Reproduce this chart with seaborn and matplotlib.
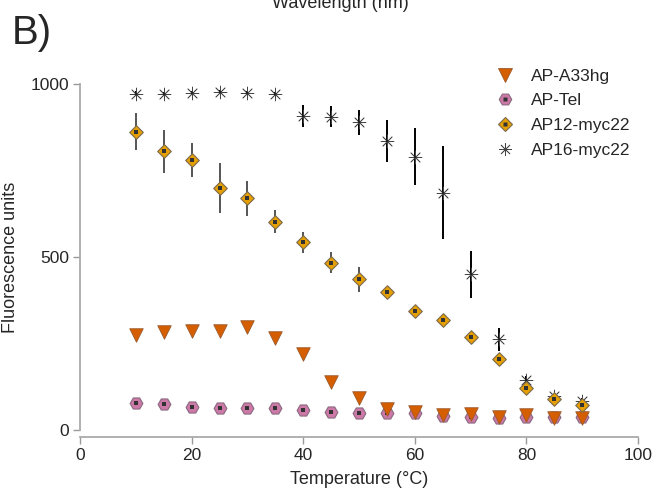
import matplotlib
matplotlib.use("Agg")
import matplotlib.pyplot as plt
import pandas as pd
import seaborn as sns
from matplotlib.lines import Line2D

# values
temps = [10, 15, 20, 25, 30, 35, 40, 45, 50, 55, 60, 65, 70, 75, 80, 85, 90]
a33hg = [275, 284, 287, 286, 297, 267, 220, 140, 93, 60, 51, 43, 46, 37, 43, 34, 34]
a33hg_err = [0, 0, 0, 12, 0, 0, 10, 0, 0, 0, 0, 0, 0, 0, 0, 0, 0]
tel = [79, 74, 67, 65, 65, 65, 58, 51, 50, 48, 48, 41, 38, 36, 38, 38, 38]
myc12 = [862, 806, 780, 700, 670, 602, 542, 484, 435, 400, 344, 318, 268, 205, 122, 89, 72]
myc12_err = [53, 62, 50, 72, 51, 33, 30, 31, 35, 10, 8, 8, 10, 10, 15, 10, 8]
myc16 = [972, 972, 975, 978, 975, 970, 908, 905, 889, 836, 790, 686, 450, 262, 145, 97, 85]
myc16_err = [8, 6, 6, 6, 6, 6, 31, 30, 35, 60, 82, 134, 68, 33, 10, 8, 8]

labels = ["AP-A33hg", "AP-Tel", "AP12-myc22", "AP16-myc22"]
x_ticks = [0, 20, 40, 60, 80, 100]
y_ticks = [0, 500, 1000]

ORANGE = "#D55E00"
PINK = "#CC79A7"
GOLD = "#E69F00"
ASTERISK = (8, 2, 0)


def main() -> None:
    sns.set_style("white")
    plt.rcParams["font.family"] = ["Liberation Sans", "DejaVu Sans"]

    fig = plt.figure(figsize=(6.54, 4.93), dpi=100)
    ax = fig.add_axes([80 / 654, 1 - 430 / 493, 558 / 654, 346 / 493])

    df = pd.DataFrame({
        "temp": temps, "a33hg": a33hg, "a33hg_err": a33hg_err, "tel": tel,
        "myc12": myc12, "myc12_err": myc12_err, "myc16": myc16, "myc16_err": myc16_err,
    })

    # AP16-myc22 (asterisks) drawn first, it sits behind the other series
    ax.errorbar(df["temp"], df["myc16"], yerr=df["myc16_err"], fmt="none",
                ecolor="black", elinewidth=1.4, capsize=0, zorder=2)
    sns.scatterplot(data=df, x="temp", y="myc16", marker=ASTERISK, s=85,
                    color="#444444", edgecolor="#444444", linewidth=0.55, ax=ax, zorder=3)
    sns.scatterplot(data=df, x="temp", y="myc16", marker="s", s=4,
                    color="#222222", linewidth=0, ax=ax, zorder=3)

    sns.scatterplot(data=df, x="temp", y="tel", marker="H", s=85,
                    color=PINK, edgecolor="#8a6a80", linewidth=0.8, ax=ax, zorder=4)
    sns.scatterplot(data=df, x="temp", y="tel", marker="s", s=5,
                    color="#333333", linewidth=0, ax=ax, zorder=4)

    ax.errorbar(df["temp"], df["a33hg"], yerr=df["a33hg_err"], fmt="none",
                ecolor="#444444", elinewidth=1.2, capsize=0, zorder=5)
    sns.scatterplot(data=df, x="temp", y="a33hg", marker="v", s=95,
                    color=ORANGE, edgecolor="#9a5a30", linewidth=0.6, ax=ax, zorder=5)

    ax.errorbar(df["temp"], df["myc12"], yerr=df["myc12_err"], fmt="none",
                ecolor="#555555", elinewidth=1.4, capsize=0, zorder=6)
    sns.scatterplot(data=df, x="temp", y="myc12", marker="D", s=48,
                    color=GOLD, edgecolor="#7a6a50", linewidth=0.8, ax=ax, zorder=7)
    sns.scatterplot(data=df, x="temp", y="myc12", marker="s", s=5,
                    color="#333333", linewidth=0, ax=ax, zorder=7)

    for coll in ax.collections:
        coll.set_clip_on(False)

    ax.set_xlim(0, 100)
    ax.set_ylim(0, 1000)
    ax.set_xticks(x_ticks)
    ax.set_yticks(y_ticks)
    ax.tick_params(axis="both", labelsize=12.5, length=5, width=1, color="#999999",
                   direction="out", bottom=True, left=True, pad=3)
    sns.despine(ax=ax, offset={"bottom": 5, "left": 0})
    for side in ("left", "bottom"):
        ax.spines[side].set_color("#aaaaaa")
        ax.spines[side].set_linewidth(1.3)
    ax.set_xlabel("Temperature (°C)", fontsize=13, labelpad=6)
    ax.set_ylabel("Fluorescence units", fontsize=13, labelpad=8)

    handles = [
        Line2D([], [], ls="none", marker="v", ms=9.5, mfc=ORANGE, mec="#9a5a30", mew=0.6),
        (Line2D([], [], ls="none", marker="H", ms=9, mfc=PINK, mec="#8a6a80", mew=0.8),
         Line2D([], [], ls="none", marker="s", ms=2.2, mfc="#333333", mec="none")),
        (Line2D([], [], ls="none", marker="D", ms=6.8, mfc=GOLD, mec="#7a6a50", mew=0.8),
         Line2D([], [], ls="none", marker="s", ms=2.2, mfc="#333333", mec="none")),
        Line2D([], [], ls="none", marker=ASTERISK, ms=9.2, mfc="#444444", mec="#444444",
               mew=0.55),
    ]
    fig.legend(handles, labels, loc="upper left", bbox_to_anchor=(476 / 654, 1 - 53 / 493),
               frameon=False, fontsize=12.5, handlelength=1.5, handletextpad=0.75,
               labelspacing=0.55)

    fig.text(12 / 654, 1 - 44 / 493, "B)", fontsize=29, ha="left", va="baseline")
    fig.text(340 / 654, 1 - 8 / 493, "Wavelength (nm)", fontsize=13, ha="center",
             va="baseline")

    fig.savefig("out.png", dpi=100)
    plt.close(fig)


if __name__ == "__main__":
    main()
